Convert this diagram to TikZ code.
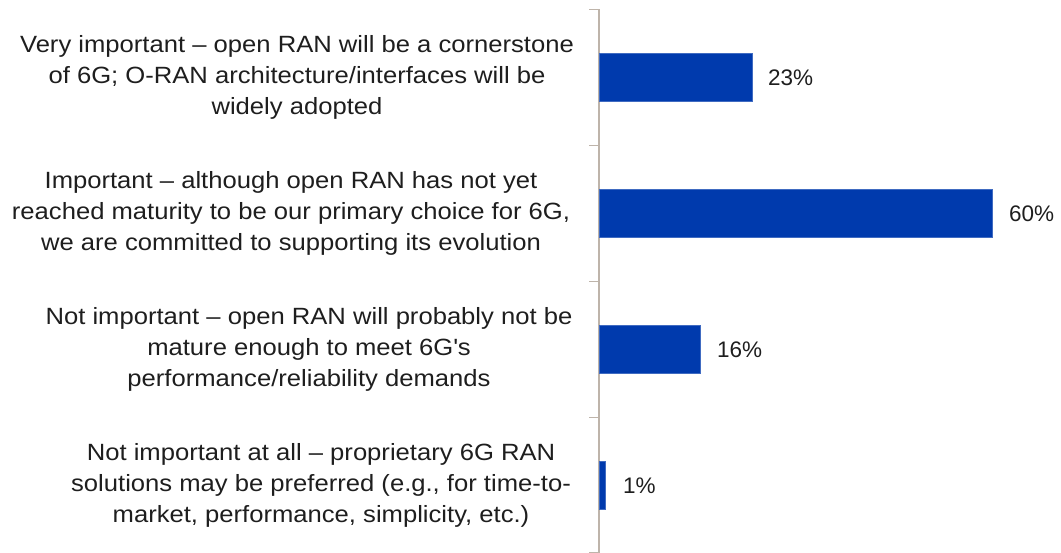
\documentclass[tikz,border=0pt]{standalone}
\usepackage{fontspec}
\setmainfont{Liberation Sans}[FakeStretch=1.09]
\newfontfamily\pctfont{Liberation Sans}
\definecolor{barblue}{RGB}{0,58,173}
\definecolor{axisgrey}{RGB}{190,180,170}
\definecolor{txtgrey}{RGB}{30,30,30}
\tikzset{
  catlabel/.style={align=center, text=txtgrey, font=\fontsize{23.5}{31}\selectfont, inner sep=0pt},
  pctlabel/.style={anchor=west, text=txtgrey, font=\pctfont\fontsize{22.5}{26}\selectfont, inner sep=0pt},
  bar/.style={fill=barblue, draw=barblue!75!white, line width=0.6pt}
}
\begin{document}
\begin{tikzpicture}[x=1pt, y=-1pt]
\useasboundingbox (0,0) rectangle (1061,553);

% axis and ticks
\draw[axisgrey, line width=1.3pt] (599,9.5) -- (599,553);
\foreach \t in {9.5,145.5,281.5,417.5,553} {
  \draw[axisgrey, line width=1.3pt] (589,\t) -- (599,\t);
}

% bars
\draw[bar] (599,53.5) rectangle (752,101.5);
\draw[bar] (599,189.5) rectangle (992.5,237.5);
\draw[bar] (599,325.5) rectangle (700.5,373.5);
\draw[bar] (599,461.5) rectangle (605.5,509.5);

% values
\node[pctlabel] (p1) at (768,77.5) {23\%};
\node[pctlabel] (p2) at (1009,213.5) {60\%};
\node[pctlabel] (p3) at (717,349.5) {16\%};
\node[pctlabel] (p4) at (623,485.5) {1\%};

% categories
\node[catlabel] (c1) at (297,77.5) {Very important -- open RAN will be a cornerstone\\of 6G; O-RAN architecture/interfaces will be\\widely adopted};
\node[catlabel] (c2) at (291,213.5) {Important -- although open RAN has not yet\\reached maturity to be our primary choice for 6G,\\we are committed to supporting its evolution};
\node[catlabel] (c3) at (309,349.5) {Not important -- open RAN will probably not be\\mature enough to meet 6G\textquotesingle s\\performance/reliability demands};
\node[catlabel] (c4) at (321,485.5) {Not important at all -- proprietary 6G RAN\\solutions may be preferred (e.g., for time-to-\\market, performance, simplicity, etc.)};
\end{tikzpicture}
\end{document}
